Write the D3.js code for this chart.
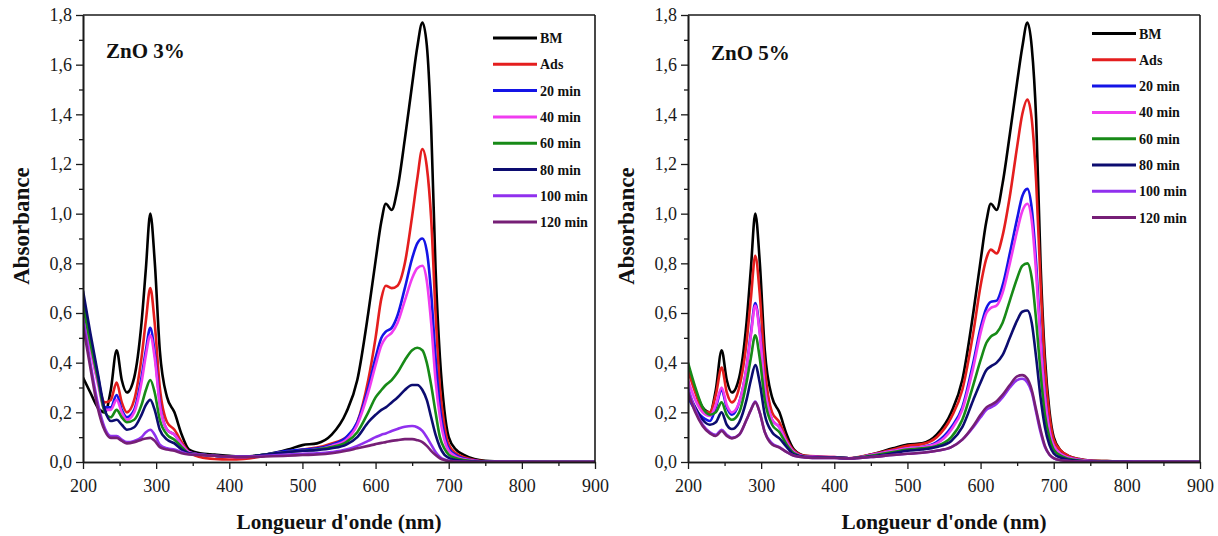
<!DOCTYPE html>
<html>
<head>
<meta charset="utf-8">
<script src="https://cdn.jsdelivr.net/npm/d3@7"></script>
<style>
  html, body { margin: 0; padding: 0; background: #fff; }
  svg { display: block; }
  .axis path, .axis line { stroke: #1a1a1a; }
  .axis path { stroke-width: 1.6px; }
  .axis line { stroke-width: 1.3px; }
  .title { font-family: "Liberation Serif", "Times New Roman", serif; font-weight: bold; fill: #111; }
</style>
</head>
<body>
<svg id="chart" width="1218" height="536"></svg>
<script>
// Wavelength grid (nm) shared by every spectrum
const wavelengths = [200, 210, 220, 230, 238, 246, 253, 260, 270, 280,
  286, 292, 298, 305, 315, 325, 335, 345, 360, 380,
  400, 420, 450, 480, 500, 520, 540, 560, 575, 590,
  600, 608, 614, 622, 630, 640, 650, 657, 664, 670,
  676, 682, 688, 694, 700, 710, 720, 735, 750, 780,
  820, 900];

const seriesNames = ["BM", "Ads", "20 min", "40 min", "60 min", "80 min", "100 min", "120 min"];
const seriesColors = ["#000000", "#e41e1e", "#1414e6", "#f03cf0", "#178a17", "#0c0c70", "#9030ee", "#761f76"];

const xTicks = [200, 300, 400, 500, 600, 700, 800, 900];
const yTicks = [0, 0.2, 0.4, 0.6, 0.8, 1.0, 1.2, 1.4, 1.6, 1.8];

// ZnO 3 % absorbance spectra
const zno3_BM = [0.34, 0.28, 0.22, 0.20, 0.29, 0.45, 0.33, 0.28, 0.34, 0.56,
  0.78, 1.00, 0.81, 0.45, 0.26, 0.20, 0.11, 0.05, 0.035, 0.03,
  0.025, 0.022, 0.03, 0.05, 0.068, 0.075, 0.11, 0.20, 0.33, 0.60,
  0.81, 0.97, 1.04, 1.015, 1.10, 1.30, 1.52, 1.67, 1.77, 1.68,
  1.35, 0.78, 0.42, 0.21, 0.10, 0.05, 0.03, 0.012, 0.005, 0.002,
  0.001, 0];
const zno3_Ads = [0.62, 0.47, 0.33, 0.24, 0.25, 0.32, 0.24, 0.20, 0.25, 0.42,
  0.57, 0.70, 0.56, 0.30, 0.16, 0.13, 0.08, 0.04, 0.02, 0.012,
  0.01, 0.012, 0.025, 0.04, 0.05, 0.058, 0.075, 0.10, 0.16, 0.33,
  0.50, 0.66, 0.71, 0.70, 0.71, 0.80, 0.99, 1.14, 1.26, 1.19,
  0.98, 0.60, 0.30, 0.15, 0.07, 0.035, 0.02, 0.008, 0.003, 0.001,
  0, 0];
const zno3_20 = [0.66, 0.50, 0.35, 0.22, 0.22, 0.27, 0.21, 0.18, 0.21, 0.34,
  0.45, 0.54, 0.44, 0.24, 0.13, 0.11, 0.07, 0.04, 0.03, 0.025,
  0.022, 0.02, 0.03, 0.045, 0.05, 0.055, 0.07, 0.10, 0.16, 0.30,
  0.42, 0.50, 0.525, 0.54, 0.59, 0.70, 0.82, 0.88, 0.90, 0.85,
  0.68, 0.42, 0.22, 0.11, 0.055, 0.028, 0.015, 0.006, 0.002, 0.001,
  0, 0];
const zno3_40 = [0.60, 0.46, 0.32, 0.21, 0.21, 0.25, 0.20, 0.17, 0.20, 0.32,
  0.43, 0.51, 0.42, 0.23, 0.13, 0.11, 0.07, 0.04, 0.03, 0.025,
  0.02, 0.02, 0.03, 0.04, 0.045, 0.05, 0.065, 0.09, 0.15, 0.28,
  0.39, 0.47, 0.50, 0.52, 0.56, 0.65, 0.74, 0.78, 0.79, 0.73,
  0.56, 0.33, 0.18, 0.09, 0.045, 0.022, 0.012, 0.005, 0.002, 0.001,
  0, 0];
const zno3_60 = [0.63, 0.48, 0.34, 0.20, 0.18, 0.21, 0.18, 0.16, 0.17, 0.23,
  0.29, 0.33, 0.28, 0.17, 0.11, 0.09, 0.06, 0.035, 0.03, 0.025,
  0.022, 0.022, 0.03, 0.04, 0.045, 0.05, 0.06, 0.08, 0.12, 0.20,
  0.26, 0.29, 0.31, 0.33, 0.36, 0.41, 0.45, 0.46, 0.45, 0.40,
  0.31, 0.20, 0.10, 0.055, 0.03, 0.015, 0.008, 0.003, 0.001, 0,
  0, 0];
const zno3_80 = [0.69, 0.52, 0.36, 0.21, 0.165, 0.17, 0.15, 0.13, 0.14, 0.19,
  0.23, 0.25, 0.21, 0.13, 0.09, 0.075, 0.05, 0.035, 0.03, 0.025,
  0.022, 0.022, 0.03, 0.04, 0.045, 0.048, 0.055, 0.07, 0.10, 0.16,
  0.19, 0.21, 0.22, 0.24, 0.26, 0.29, 0.31, 0.31, 0.29, 0.25,
  0.18, 0.11, 0.06, 0.03, 0.017, 0.008, 0.004, 0.002, 0.001, 0,
  0, 0];
const zno3_100 = [0.58, 0.40, 0.24, 0.135, 0.105, 0.105, 0.09, 0.08, 0.085, 0.10,
  0.12, 0.13, 0.11, 0.07, 0.055, 0.05, 0.04, 0.032, 0.03, 0.025,
  0.022, 0.022, 0.025, 0.03, 0.033, 0.035, 0.04, 0.05, 0.065, 0.085,
  0.10, 0.11, 0.115, 0.125, 0.133, 0.142, 0.145, 0.14, 0.125, 0.10,
  0.07, 0.04, 0.02, 0.01, 0.005, 0.002, 0.001, 0, 0, 0,
  0, 0];
const zno3_120 = [0.55, 0.38, 0.22, 0.125, 0.097, 0.097, 0.085, 0.075, 0.08, 0.09,
  0.095, 0.097, 0.085, 0.06, 0.05, 0.045, 0.035, 0.03, 0.028, 0.025,
  0.022, 0.02, 0.022, 0.025, 0.028, 0.03, 0.035, 0.045, 0.055, 0.065,
  0.072, 0.077, 0.08, 0.085, 0.088, 0.092, 0.092, 0.088, 0.08, 0.065,
  0.045, 0.028, 0.015, 0.008, 0.004, 0.002, 0.001, 0, 0, 0,
  0, 0];

// ZnO 5 % absorbance spectra
const zno5_BM = [0.38, 0.29, 0.22, 0.20, 0.29, 0.45, 0.33, 0.28, 0.34, 0.56,
  0.78, 1.00, 0.81, 0.45, 0.26, 0.20, 0.11, 0.05, 0.025, 0.02,
  0.018, 0.015, 0.03, 0.055, 0.07, 0.075, 0.11, 0.20, 0.33, 0.60,
  0.81, 0.97, 1.04, 1.015, 1.12, 1.32, 1.53, 1.67, 1.77, 1.67,
  1.38, 0.80, 0.42, 0.21, 0.10, 0.045, 0.025, 0.012, 0.006, 0.003,
  0.001, 0];
const zno5_Ads = [0.37, 0.28, 0.21, 0.20, 0.27, 0.38, 0.28, 0.24, 0.30, 0.48,
  0.66, 0.83, 0.68, 0.38, 0.20, 0.16, 0.09, 0.045, 0.025, 0.022,
  0.02, 0.015, 0.03, 0.05, 0.065, 0.072, 0.10, 0.18, 0.29, 0.52,
  0.71, 0.82, 0.855, 0.84, 0.91, 1.07, 1.27, 1.40, 1.46, 1.38,
  1.13, 0.72, 0.38, 0.19, 0.09, 0.045, 0.025, 0.012, 0.006, 0.003,
  0.001, 0];
const zno5_20 = [0.26, 0.21, 0.18, 0.165, 0.22, 0.29, 0.22, 0.19, 0.24, 0.38,
  0.52, 0.64, 0.53, 0.30, 0.17, 0.14, 0.08, 0.04, 0.022, 0.02,
  0.018, 0.015, 0.028, 0.045, 0.055, 0.06, 0.08, 0.14, 0.22, 0.40,
  0.54, 0.62, 0.645, 0.65, 0.71, 0.84, 0.98, 1.07, 1.10, 1.02,
  0.80, 0.50, 0.27, 0.13, 0.065, 0.032, 0.018, 0.009, 0.004, 0.002,
  0.001, 0];
const zno5_40 = [0.33, 0.25, 0.20, 0.185, 0.23, 0.30, 0.23, 0.20, 0.24, 0.38,
  0.51, 0.63, 0.52, 0.30, 0.17, 0.14, 0.08, 0.04, 0.022, 0.02,
  0.02, 0.015, 0.028, 0.045, 0.055, 0.06, 0.075, 0.13, 0.21, 0.38,
  0.52, 0.60, 0.62, 0.63, 0.68, 0.80, 0.93, 1.01, 1.04, 0.97,
  0.76, 0.48, 0.26, 0.13, 0.065, 0.032, 0.018, 0.009, 0.004, 0.002,
  0.001, 0];
const zno5_60 = [0.40, 0.30, 0.22, 0.19, 0.20, 0.24, 0.19, 0.17, 0.20, 0.32,
  0.42, 0.51, 0.42, 0.25, 0.15, 0.12, 0.07, 0.035, 0.02, 0.018,
  0.018, 0.015, 0.025, 0.04, 0.05, 0.055, 0.065, 0.10, 0.17, 0.31,
  0.41, 0.48, 0.505, 0.52, 0.56, 0.65, 0.74, 0.79, 0.80, 0.74,
  0.57, 0.36, 0.19, 0.10, 0.05, 0.025, 0.013, 0.006, 0.003, 0.001,
  0, 0];
const zno5_80 = [0.28, 0.22, 0.17, 0.15, 0.16, 0.20, 0.15, 0.133, 0.16, 0.25,
  0.33, 0.39, 0.32, 0.19, 0.12, 0.095, 0.06, 0.03, 0.02, 0.018,
  0.018, 0.015, 0.022, 0.035, 0.045, 0.05, 0.06, 0.085, 0.14, 0.25,
  0.32, 0.37, 0.385, 0.40, 0.43, 0.50, 0.57, 0.605, 0.61, 0.56,
  0.42, 0.26, 0.14, 0.07, 0.035, 0.017, 0.009, 0.004, 0.002, 0.001,
  0, 0];
const zno5_100 = [0.30, 0.21, 0.15, 0.12, 0.11, 0.13, 0.11, 0.097, 0.11, 0.17,
  0.21, 0.243, 0.20, 0.12, 0.075, 0.06, 0.04, 0.025, 0.018, 0.016,
  0.016, 0.014, 0.02, 0.028, 0.033, 0.037, 0.045, 0.06, 0.09, 0.14,
  0.18, 0.21, 0.22, 0.235, 0.26, 0.30, 0.33, 0.335, 0.32, 0.28,
  0.20, 0.12, 0.06, 0.03, 0.015, 0.007, 0.004, 0.002, 0.001, 0,
  0, 0];
const zno5_120 = [0.28, 0.20, 0.145, 0.115, 0.105, 0.125, 0.105, 0.095, 0.11, 0.17,
  0.21, 0.24, 0.20, 0.12, 0.07, 0.058, 0.04, 0.025, 0.018, 0.016,
  0.016, 0.014, 0.02, 0.028, 0.033, 0.037, 0.045, 0.06, 0.09, 0.145,
  0.19, 0.22, 0.23, 0.245, 0.27, 0.31, 0.345, 0.35, 0.335, 0.29,
  0.21, 0.13, 0.065, 0.03, 0.016, 0.007, 0.004, 0.002, 0.001, 0,
  0, 0];

const panels = [
  { label: "ZnO 3%", left: 83, legendX: 493, legendY: 38,
    series: [zno3_BM, zno3_Ads, zno3_20, zno3_40, zno3_60, zno3_80, zno3_100, zno3_120] },
  { label: "ZnO 5%", left: 688, legendX: 1092, legendY: 33.5,
    series: [zno5_BM, zno5_Ads, zno5_20, zno5_40, zno5_60, zno5_80, zno5_100, zno5_120] }
];

const plotW = 512, plotTop = 15, plotBottom = 462;
const serif = '"Liberation Serif", "Times New Roman", Times, serif';
const commaFmt = d3.formatLocale({ decimal: ",", thousands: ".", grouping: [3], currency: ["", ""] }).format(".1f");
const svg = d3.select("#chart");

function styleTickText(sel) {
  sel.attr("font-family", serif).attr("font-size", 18);
  sel.selectAll("text").style("font-family", serif).style("font-size", "18px").style("fill", "#1a1a1a");
}

panels.forEach((p, pi) => {
  const x = d3.scaleLinear().domain([200, 900]).range([p.left, p.left + plotW]);
  const y = d3.scaleLinear().domain([0, 1.8]).range([plotBottom, plotTop]);
  const g = svg.append("g");

  const clipId = "clip" + pi;
  svg.append("clipPath").attr("id", clipId).append("rect")
    .attr("x", p.left).attr("y", plotTop - 2).attr("width", plotW).attr("height", plotBottom - plotTop + 2);

  // spectra
  const line = d3.line()
    .x((d, i) => x(wavelengths[i]))
    .y(d => y(d))
    .curve(d3.curveMonotoneX);
  const curves = g.append("g").attr("clip-path", `url(#${clipId})`);
  p.series.forEach((vals, si) => {
    curves.append("path")
      .attr("d", line(vals))
      .attr("fill", "none")
      .attr("stroke", seriesColors[si])
      .attr("stroke-width", 2.6)
      .attr("stroke-linejoin", "round");
  });

  // frame (top and right)
  g.append("line").attr("x1", p.left).attr("x2", p.left + plotW).attr("y1", plotTop).attr("y2", plotTop)
    .attr("stroke", "#1a1a1a").attr("stroke-width", 1.6);
  g.append("line").attr("x1", p.left + plotW).attr("x2", p.left + plotW).attr("y1", plotTop).attr("y2", plotBottom)
    .attr("stroke", "#1a1a1a").attr("stroke-width", 1.6);

  // x axis: major + minor ticks
  g.append("g").attr("class", "axis").attr("transform", `translate(0,${plotBottom})`)
    .call(d3.axisBottom(x).tickValues(d3.range(250, 900, 100)).tickSize(4).tickFormat("").tickSizeOuter(0));
  g.append("g").attr("class", "axis").attr("transform", `translate(0,${plotBottom})`)
    .call(d3.axisBottom(x).tickValues(xTicks).tickSize(7).tickPadding(10).tickSizeOuter(0))
    .call(styleTickText);

  // y axis: major + minor ticks
  g.append("g").attr("class", "axis").attr("transform", `translate(${p.left},0)`)
    .call(d3.axisLeft(y).tickValues(d3.range(0.1, 1.8, 0.2)).tickSize(4).tickFormat("").tickSizeOuter(0));
  g.append("g").attr("class", "axis").attr("transform", `translate(${p.left},0)`)
    .call(d3.axisLeft(y).tickValues(yTicks).tickSize(7).tickPadding(4).tickFormat(commaFmt).tickSizeOuter(0))
    .call(styleTickText);

  // axis titles
  g.append("text").attr("class", "title")
    .attr("transform", `translate(${p.left - 54},226) rotate(-90)`)
    .attr("text-anchor", "middle").style("font-size", "23px")
    .text("Absorbance");
  g.append("text").attr("class", "title")
    .attr("x", p.left + plotW / 2).attr("y", 529)
    .attr("text-anchor", "middle").style("font-size", "22px")
    .attr("textLength", 205).attr("lengthAdjust", "spacingAndGlyphs")
    .text("Longueur d'onde (nm)");

  // panel label
  g.append("text").attr("class", "title")
    .attr("x", p.left + 23).attr("y", 58 + pi * 2)
    .style("font-size", "21px")
    .text(p.label);

  // legend
  const leg = g.append("g");
  seriesNames.forEach((name, si) => {
    const ly = p.legendY + si * 26.3;
    leg.append("line").attr("x1", p.legendX).attr("x2", p.legendX + 44)
      .attr("y1", ly).attr("y2", ly)
      .attr("stroke", seriesColors[si]).attr("stroke-width", 3);
    leg.append("text").attr("class", "title")
      .attr("x", p.legendX + 47).attr("y", ly + 5)
      .style("font-size", "14px")
      .text(name);
  });
});
</script>
</body>
</html>
